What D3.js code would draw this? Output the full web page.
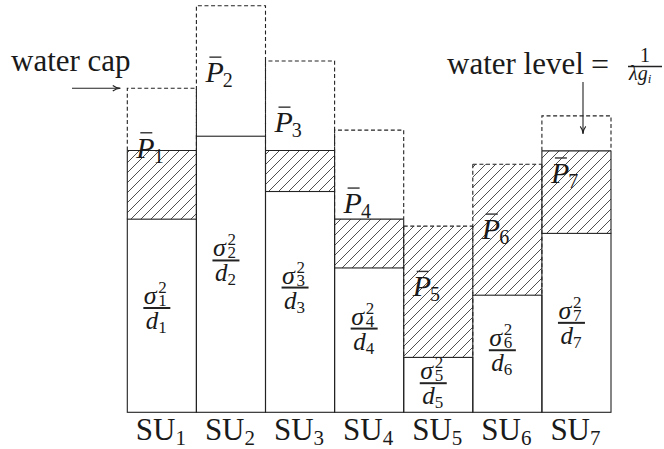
<!DOCTYPE html>
<html>
<head>
<meta charset="utf-8">
<script src="https://cdn.jsdelivr.net/npm/d3@7"></script>
<style>
  html, body { margin: 0; padding: 0; background: #fff; }
  svg { display: block; }
  text { font-family: "Liberation Serif", "DejaVu Serif", "Times New Roman", serif; fill: #1a1a1a; }
  .math { font-style: italic; }
</style>
</head>
<body>
<svg id="chart" width="664" height="449"></svg>
<script>
// Subchannel units
const categories = ["1", "2", "3", "4", "5", "6", "7"];
// Noise-to-gain level sigma_i^2 / d_i of each unit
const noiseLevel = [4.75, 6.79, 5.43, 3.55, 1.35, 2.88, 4.40];
// Allocated power (hatched water) per unit
const power = [1.69, 0.00, 1.01, 1.20, 3.23, 3.22, 2.03];
// Power cap P-bar_i per unit (dashed box above the noise level)
const powerCap = [3.22, 3.21, 3.21, 3.39, 3.23, 3.22, 2.89];

// Label placement (fraction of noise bar height for sigma^2/d, value level for P-bar)
const noiseLabelFrac = [0.54, 0.55, 0.565, 0.58, 0.53, 0.53, 0.50];
const capLabelLevel = [6.26, 8.12, 6.89, 4.90, 2.85, 4.26, 5.64];

const svg = d3.select("#chart");
const ink = "#222";
const lw = 1.1;
const dash = "4,2.6";

const x = d3.scaleBand().domain(categories).range([127.3, 611]).padding(0);
const y = d3.scaleLinear().domain([0, 10]).range([412.3, 5.7]);
const w = x.bandwidth();

// diagonal hatch for the water region
const defs = svg.append("defs");
const pat = defs.append("pattern")
  .attr("id", "hatch").attr("patternUnits", "userSpaceOnUse")
  .attr("width", 10).attr("height", 10);
pat.append("path")
  .attr("d", "M0,10 L10,0 M-2.5,2.5 L2.5,-2.5 M7.5,12.5 L12.5,7.5")
  .attr("stroke", ink).attr("stroke-width", 0.8);

const cols = categories.map((c, i) => ({
  c, i,
  x0: x(c),
  yB: y(0),
  yN: y(noiseLevel[i]),
  yW: y(noiseLevel[i] + power[i]),
  yC: y(noiseLevel[i] + powerCap[i]),
  capped: power[i] >= powerCap[i]
}));

const g = svg.append("g");

// dashed cap boxes
g.selectAll("path.cap").data(cols.filter(d => !d.capped)).join("path")
  .attr("class", "cap")
  .attr("d", d => `M${d.x0},${d.yW} V${d.yC} H${d.x0 + w} V${d.yW}`)
  .attr("fill", "none").attr("stroke", ink).attr("stroke-width", lw)
  .attr("stroke-dasharray", dash);

// water (hatched) regions
const water = cols.filter(d => power[d.i] > 0);
g.selectAll("rect.water").data(water).join("rect")
  .attr("class", "water")
  .attr("x", d => d.x0).attr("y", d => d.yW)
  .attr("width", w).attr("height", d => d.yN - d.yW)
  .attr("fill", "url(#hatch)");
g.selectAll("path.waterSides").data(water).join("path")
  .attr("class", "waterSides")
  .attr("d", d => `M${d.x0},${d.yW} V${d.yN} M${d.x0 + w},${d.yW} V${d.yN}`)
  .attr("fill", "none").attr("stroke", ink).attr("stroke-width", lw)
  .attr("stroke-dasharray", d => d.capped ? dash : null);
g.selectAll("line.waterTop").data(water).join("line")
  .attr("class", "waterTop")
  .attr("x1", d => d.x0).attr("x2", d => d.x0 + w)
  .attr("y1", d => d.yW).attr("y2", d => d.yW)
  .attr("stroke", ink).attr("stroke-width", lw)
  .attr("stroke-dasharray", d => d.capped ? dash : null);

// noise bars
g.selectAll("rect.noise").data(cols).join("rect")
  .attr("class", "noise")
  .attr("x", d => d.x0).attr("y", d => d.yN)
  .attr("width", w).attr("height", d => d.yB - d.yN)
  .attr("fill", "none").attr("stroke", ink).attr("stroke-width", lw);

// sigma_i^2 / d_i labels (numerator and denominator in one text element)
cols.forEach(d => {
  const cx = d.x0 + w / 2 - 5;
  const yb = y(noiseLevel[d.i] * noiseLabelFrac[d.i]);
  const n = d.i + 1;
  g.append("line").attr("x1", cx - 13.5).attr("x2", cx + 13.5)
    .attr("y1", yb).attr("y2", yb).attr("stroke", ink).attr("stroke-width", 2);
  const fr = g.append("text");
  fr.append("tspan").attr("class", "math").attr("x", cx - 13).attr("y", yb - 4)
    .attr("font-size", 26).text("σ");
  fr.append("tspan").attr("x", cx + 1.5).attr("y", yb - 15)
    .attr("font-size", 17).text("2");
  fr.append("tspan").attr("x", cx + 1.5).attr("y", yb - 2)
    .attr("font-size", 17).text(n);
  fr.append("tspan").attr("class", "math").attr("x", cx - 11).attr("y", yb + 21)
    .attr("font-size", 25).text("d");
  fr.append("tspan").attr("font-size", 17).attr("dy", 4).text(n);
});

// P-bar labels
cols.forEach(d => {
  const tx = d.x0 + 9;
  const ty = y(capLabelLevel[d.i]);
  const t = g.append("text").attr("x", tx).attr("y", ty);
  t.append("tspan").attr("class", "math").attr("font-size", 30).text("P");
  t.append("tspan").attr("font-size", 20).attr("dy", 5).attr("dx", -1).text(d.i + 1);
  g.append("line").attr("x1", tx + 4).attr("x2", tx + 16)
    .attr("y1", ty - 25).attr("y2", ty - 25)
    .attr("stroke", "#333").attr("stroke-width", 1.4);
});

// unit labels
cols.forEach(d => {
  const t = g.append("text").attr("x", d.x0 + w / 2 - 1).attr("y", 440)
    .attr("text-anchor", "middle");
  t.append("tspan").attr("font-size", 31).text("SU");
  t.append("tspan").attr("font-size", 21).attr("dy", 5).text(d.i + 1);
});

// arrow helper
function arrow(x1, y1, x2, y2) {
  const a = Math.atan2(y2 - y1, x2 - x1);
  const L = 8, s = 0.35;
  g.append("line").attr("x1", x1).attr("y1", y1).attr("x2", x2).attr("y2", y2)
    .attr("stroke", ink).attr("stroke-width", 1.1);
  const p1 = [x2 - L * Math.cos(a - s), y2 - L * Math.sin(a - s)];
  const p2 = [x2 - L * Math.cos(a + s), y2 - L * Math.sin(a + s)];
  g.append("path")
    .attr("d", `M${p1} Q${x2 - 4 * Math.cos(a)},${y2 - 4 * Math.sin(a)} ${x2},${y2} Q${x2 - 4 * Math.cos(a)},${y2 - 4 * Math.sin(a)} ${p2}`)
    .attr("fill", "none").attr("stroke", ink).attr("stroke-width", 1.1);
}

// water cap annotation
const c0 = cols[0];
g.append("text").attr("x", 11).attr("y", 71).attr("font-size", 31).text("water cap");
arrow(72, c0.yC, c0.x0 - 7, c0.yC);

// water level annotation: "water level = 1 / (λ g_i)"
const c6 = cols[6];
g.append("text").attr("x", 447).attr("y", 74).attr("font-size", 31).text("water level");
g.append("text").attr("x", 591).attr("y", 75).attr("font-size", 32).text("=");
g.append("line").attr("x1", 628).attr("x2", 662).attr("y1", 66.5).attr("y2", 66.5)
  .attr("stroke", ink).attr("stroke-width", 1.3);
const wl = g.append("text");
wl.append("tspan").attr("x", 640).attr("y", 62).attr("font-size", 20).text("1");
wl.append("tspan").attr("class", "math").attr("x", 629).attr("y", 80)
  .attr("font-size", 20).text("λg");
wl.append("tspan").attr("class", "math").attr("font-size", 13).attr("dy", 3).text("i");
arrow(583, 82, 583, c6.yW - 17);
</script>
</body>
</html>
